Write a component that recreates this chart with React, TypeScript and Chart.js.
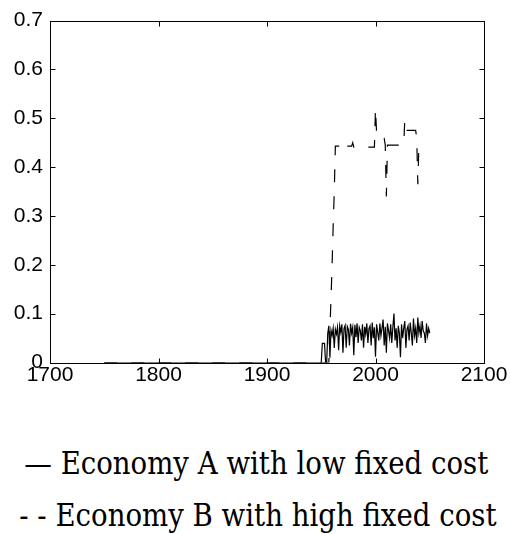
import React, { useEffect, useRef } from "react";
import { Chart, registerables } from "chart.js";

Chart.register(...registerables);

// ---- data ----
const xMin = 1700;
const xMax = 2100;
const xStep = 100;
const yMin = 0;
const yMax = 0.7;
const yStep = 0.1;

// zero baseline before the take-off
const baselineStart = 1750;

// Economy A (solid), yearly from 1950
const startYearA = 1950;
const econA = [
  0, 0.039, 0.039, 0.039, 0, 0, 0.06, 0.075, 0.01, 0.066,
  0.055, 0.07, 0.03, 0.068, 0.058, 0.072, 0.025, 0.075, 0.062, 0.078,
  0.02, 0.07, 0.076, 0.03, 0.074, 0.068, 0.035, 0.079, 0.06, 0.072,
  0.015, 0.077, 0.052, 0.08, 0.04, 0.072, 0.065, 0.045, 0.078, 0.03,
  0.073, 0.058, 0.08, 0.04, 0.07, 0.075, 0.035, 0.082, 0.05, 0.072,
  0.012, 0.078, 0.062, 0.045, 0.08, 0.055, 0.07, 0.088, 0.035, 0.073,
  0.02, 0.08, 0.065, 0.05, 0.078, 0.04, 0.072, 0.1, 0.045, 0.07,
  0.03, 0.075, 0.06, 0.011, 0.078, 0.05, 0.07, 0.085, 0.03, 0.068,
  0.075, 0.045, 0.082, 0.06, 0.035, 0.09, 0.055, 0.07, 0.04, 0.092,
  0.06, 0.075, 0.05, 0.085, 0.065, 0.06, 0.04, 0.08, 0.055, 0.07,
  0.06,
];

// Economy B (dashed), yearly from 1957
const startYearB = 1957;
const econB = [
  0, 0.07, 0.13, 0.2, 0.28, 0.35, 0.443,
  0.443, 0.443, 0.443, 0.443, 0.443, 0.443,
  0.451,
  0.443, 0.443, 0.443, 0.443, 0.443, 0.443, 0.443, 0.443,
  0.45,
  0.441, 0.441, 0.441, 0.441, 0.441, 0.441, 0.441, 0.441, 0.441, 0.441,
  0.441, 0.441, 0.441, 0.441, 0.441, 0.441, 0.441, 0.441, 0.441, 0.441,
  0.52, 0.47,
  0.459, 0.459, 0.459, 0.459, 0.459, 0.459, 0.459,
  0.445, 0.34,
  0.445, 0.445, 0.445, 0.445, 0.445, 0.445, 0.445, 0.445,
  0.445, 0.445, 0.445, 0.445, 0.445, 0.445, 0.445, 0.445,
  0.496,
  0.475, 0.475, 0.475, 0.475, 0.475, 0.475, 0.475, 0.475, 0.475, 0.475,
  0.46, 0.365,
  0.445, 0.445, 0.445, 0.445, 0.445, 0.445,
];

const legendA = "— Economy A with low fixed cost";
const legendB = "- - Economy B with high fixed cost";

// ---- layout ----
const W = 511;
const H = 395;
const AREA_LEFT = 50;
const AREA_TOP = 20.5;
const AREA_BOTTOM = 362.5;
const PAD_RIGHT = 27;

function toPoints(start: number, vals: number[], lead: number) {
  const pts = [{ x: lead, y: 0 }];
  vals.forEach((v, i) => pts.push({ x: start + i, y: v }));
  return pts;
}

const boxPlugin = {
  id: "boxTicks",
  afterDraw(chart: any) {
    const { ctx, chartArea: a, scales } = chart;
    const L = 5;
    ctx.save();
    ctx.strokeStyle = "#000";
    ctx.lineWidth = 1;
    const left = Math.round(a.left) + 0.5;
    const right = Math.round(a.right) + 0.5;
    const top = Math.round(a.top) + 0.5;
    const bottom = Math.round(a.bottom) + 0.5;
    ctx.strokeRect(left, top, right - left, bottom - top);
    ctx.beginPath();
    scales.x.ticks.forEach((t: any) => {
      const px = Math.round(scales.x.getPixelForValue(t.value)) + 0.5;
      ctx.moveTo(px, bottom);
      ctx.lineTo(px, bottom - L);
      ctx.moveTo(px, top);
      ctx.lineTo(px, top + L);
    });
    scales.y.ticks.forEach((t: any) => {
      const py = Math.round(scales.y.getPixelForValue(t.value)) + 0.5;
      ctx.moveTo(left, py);
      ctx.lineTo(left + L, py);
      ctx.moveTo(right, py);
      ctx.lineTo(right - L, py);
    });
    ctx.stroke();
    ctx.restore();
  },
};

export default function App() {
  const ref = useRef<HTMLCanvasElement | null>(null);

  useEffect(() => {
    if (!ref.current) return;
    const tickFont = { family: "'Liberation Sans', Arial, sans-serif", size: 21 };
    const chart = new Chart(ref.current, {
      type: "line",
      data: {
        datasets: [
          {
            label: "Economy A",
            data: toPoints(startYearA, econA, baselineStart),
            borderColor: "#000",
            borderWidth: 1.2,
            pointRadius: 0,
            tension: 0,
            fill: false,
          },
          {
            label: "Economy B",
            data: toPoints(startYearB, econB, baselineStart),
            borderColor: "#000",
            borderWidth: 1.2,
            borderDash: [13, 14],
            pointRadius: 0,
            tension: 0,
            fill: false,
          },
        ],
      },
      options: {
        animation: false,
        responsive: false,
        events: [],
        layout: { padding: { left: 0, right: PAD_RIGHT, top: AREA_TOP, bottom: 0 } },
        plugins: {
          legend: { display: false },
          tooltip: { enabled: false },
          title: { display: false },
        },
        scales: {
          x: {
            type: "linear",
            min: xMin,
            max: xMax,
            grid: { display: false, drawTicks: false },
            border: { display: false },
            ticks: {
              stepSize: xStep,
              color: "#000",
              font: tickFont,
              padding: 0,
              maxRotation: 0,
              callback: (v: any) => String(v),
            },
            afterFit: (s: any) => {
              s.height = H - AREA_BOTTOM;
            },
          },
          y: {
            type: "linear",
            min: yMin,
            max: yMax,
            grid: { display: false, drawTicks: false },
            border: { display: false },
            ticks: {
              stepSize: yStep,
              color: "#000",
              font: tickFont,
              padding: 7,
              callback: (v: any) => (Number(v) === 0 ? "0" : Number(v).toFixed(1)),
            },
            afterFit: (s: any) => {
              s.width = AREA_LEFT;
            },
          },
        },
      },
      plugins: [boxPlugin],
    });
    return () => chart.destroy();
  }, []);

  const legendStyle: React.CSSProperties = {
    position: "absolute",
    width: 515,
    textAlign: "center",
    fontFamily: "'DejaVu Serif', 'Liberation Serif', serif",
    fontSize: 31,
    lineHeight: "31px",
    color: "#000",
    whiteSpace: "nowrap",
    transform: "scaleX(0.89)",
    transformOrigin: "257px 0",
  };

  return (
    <div style={{ position: "absolute", left: 0, top: 0, width: W, height: 534, background: "#fff", overflow: "hidden" }}>
      <canvas ref={ref} width={W} height={H} style={{ position: "absolute", left: 0, top: 0, width: W, height: H }} />
      <div style={{ ...legendStyle, left: -4, top: 448 }}>{legendA}</div>
      <div style={{ ...legendStyle, left: -9, top: 500 }}>{legendB}</div>
    </div>
  );
}
